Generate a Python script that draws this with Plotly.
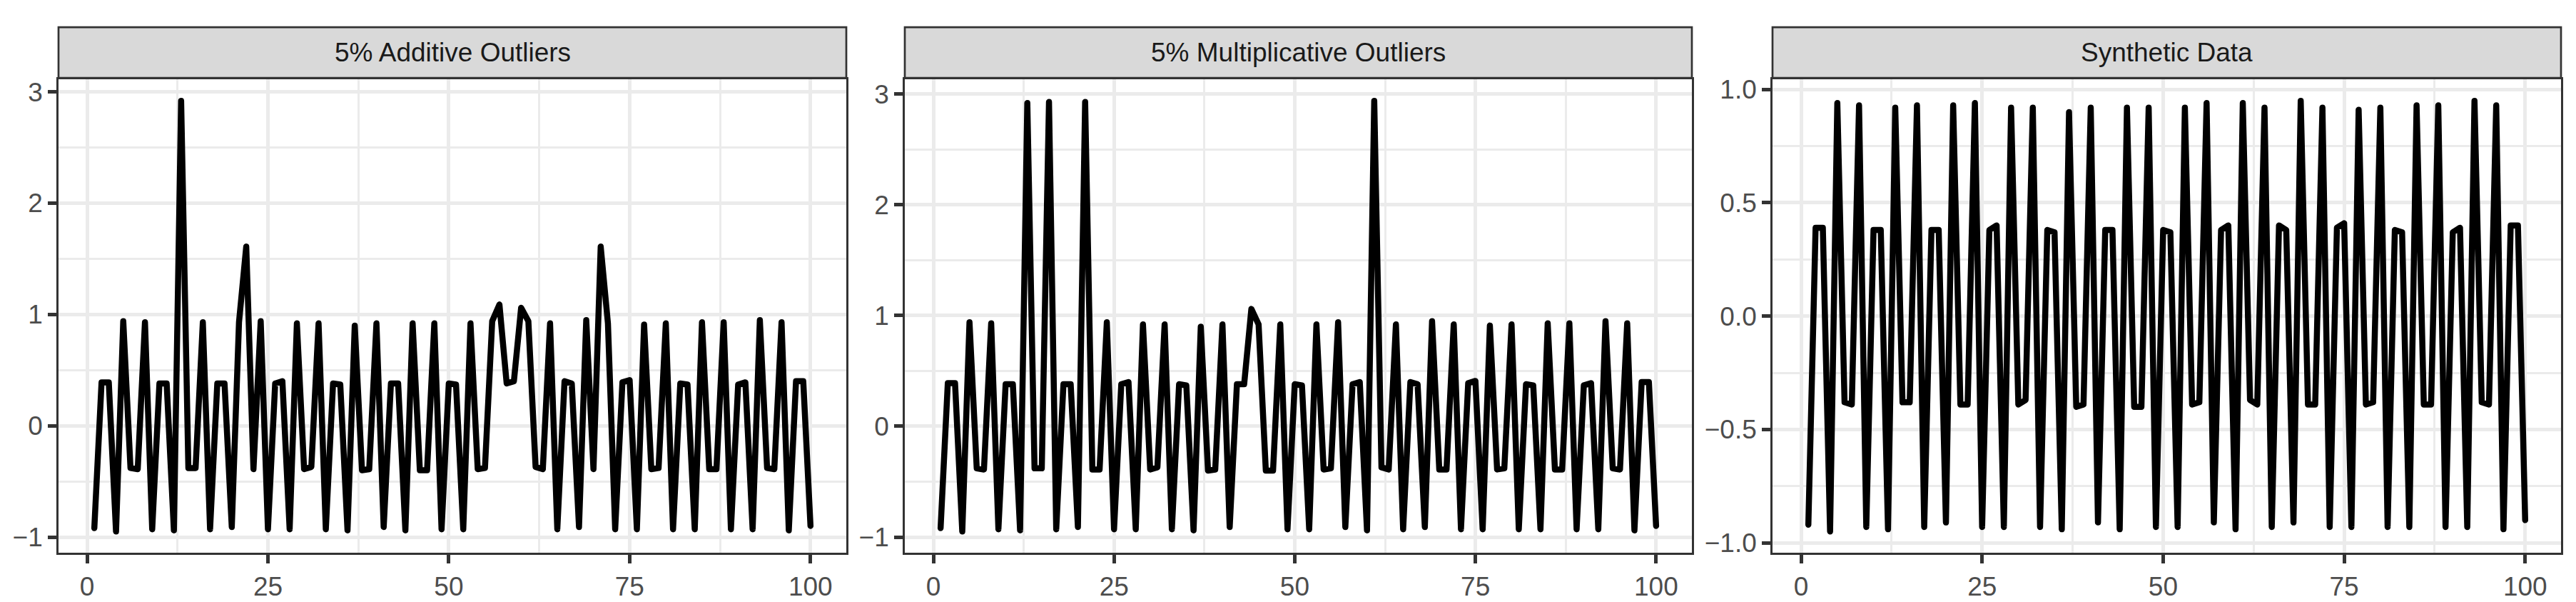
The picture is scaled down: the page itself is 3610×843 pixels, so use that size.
import plotly.graph_objects as go

W, H = 3610, 843

panel_titles = ["5% Additive Outliers", "5% Multiplicative Outliers", "Synthetic Data"]
time_index = list(range(1, 101))

additive = [
    -0.92, 0.39, 0.39, -0.95, 0.94, -0.38, -0.39, 0.93, -0.93, 0.38,
    0.38, -0.94, 2.92, -0.38, -0.38, 0.93, -0.93, 0.38, 0.38, -0.91,
    0.93, 1.61, -0.39, 0.94, -0.93, 0.38, 0.40, -0.93, 0.92, -0.39,
    -0.37, 0.92, -0.93, 0.38, 0.37, -0.94, 0.90, -0.40, -0.39, 0.92,
    -0.91, 0.38, 0.38, -0.94, 0.92, -0.40, -0.40, 0.92, -0.93, 0.38,
    0.37, -0.93, 0.92, -0.39, -0.38, 0.94, 1.09, 0.38, 0.40, 1.06,
    0.94, -0.37, -0.39, 0.92, -0.93, 0.40, 0.38, -0.91, 0.95, -0.39,
    1.61, 0.92, -0.93, 0.39, 0.41, -0.93, 0.91, -0.39, -0.38, 0.92,
    -0.93, 0.38, 0.37, -0.93, 0.93, -0.39, -0.39, 0.93, -0.93, 0.37,
    0.39, -0.93, 0.95, -0.38, -0.39, 0.93, -0.94, 0.40, 0.40, -0.90,
]

multiplicative = [
    -0.92, 0.39, 0.39, -0.95, 0.94, -0.38, -0.39, 0.93, -0.93, 0.38,
    0.38, -0.94, 2.92, -0.38, -0.38, 2.93, -0.93, 0.38, 0.38, -0.91,
    2.93, -0.39, -0.39, 0.94, -0.93, 0.38, 0.40, -0.93, 0.92, -0.39,
    -0.37, 0.92, -0.93, 0.38, 0.37, -0.94, 0.90, -0.40, -0.39, 0.92,
    -0.91, 0.38, 0.38, 1.06, 0.92, -0.40, -0.40, 0.92, -0.93, 0.38,
    0.37, -0.93, 0.92, -0.39, -0.38, 0.94, -0.91, 0.38, 0.40, -0.94,
    2.94, -0.37, -0.39, 0.92, -0.93, 0.40, 0.38, -0.91, 0.95, -0.39,
    -0.39, 0.92, -0.93, 0.39, 0.41, -0.93, 0.91, -0.39, -0.38, 0.92,
    -0.93, 0.38, 0.37, -0.93, 0.93, -0.39, -0.39, 0.93, -0.93, 0.37,
    0.39, -0.93, 0.95, -0.38, -0.39, 0.93, -0.94, 0.40, 0.40, -0.90,
]

synthetic = [
    -0.92, 0.39, 0.39, -0.95, 0.94, -0.38, -0.39, 0.93, -0.93, 0.38,
    0.38, -0.94, 0.92, -0.38, -0.38, 0.93, -0.93, 0.38, 0.38, -0.91,
    0.93, -0.39, -0.39, 0.94, -0.93, 0.38, 0.40, -0.93, 0.92, -0.39,
    -0.37, 0.92, -0.93, 0.38, 0.37, -0.94, 0.90, -0.40, -0.39, 0.92,
    -0.91, 0.38, 0.38, -0.94, 0.92, -0.40, -0.40, 0.92, -0.93, 0.38,
    0.37, -0.93, 0.92, -0.39, -0.38, 0.94, -0.91, 0.38, 0.40, -0.94,
    0.94, -0.37, -0.39, 0.92, -0.93, 0.40, 0.38, -0.91, 0.95, -0.39,
    -0.39, 0.92, -0.93, 0.39, 0.41, -0.93, 0.91, -0.39, -0.38, 0.92,
    -0.93, 0.38, 0.37, -0.93, 0.93, -0.39, -0.39, 0.93, -0.93, 0.37,
    0.39, -0.93, 0.95, -0.38, -0.39, 0.93, -0.94, 0.40, 0.40, -0.90,
]

series = [additive, multiplicative, synthetic]
x_ticks = [0, 25, 50, 75, 100]
y_dticks = [1, 1, 0.5]
y_formats = ["d", "d", ".1f"]

# panel pixel geometry (left, right) and common top/bottom
panels_px = [(82, 1186), (1268, 2371), (2484, 3589)]
panel_top, panel_bottom = 106.5, 779.5
strip_top, strip_bottom = 32.5, 104.5

FONT = "Liberation Sans, Arial, sans-serif"
GRID = "#EBEBEB"
DARK = "#333333"

fig = go.Figure()
layout = dict(
    width=W, height=H, margin=dict(l=0, r=0, t=0, b=0),
    paper_bgcolor="white", plot_bgcolor="white", showlegend=False,
    shapes=[], annotations=[],
)

def expand(lo, hi, f=0.05):
    d = (hi - lo) * f
    return [lo - d, hi + d]

for i, (vals, title) in enumerate(zip(series, panel_titles)):
    n = "" if i == 0 else str(i + 1)
    xa, ya = "x" + n, "y" + n
    fig.add_trace(go.Scatter(
        x=time_index, y=vals, mode="lines", xaxis=xa, yaxis=ya,
        line=dict(color="black", width=8.5), hoverinfo="skip",
    ))
    l, r = panels_px[i]
    xdom = [l / W, r / W]
    ydom = [1 - panel_bottom / H, 1 - panel_top / H]
    common = dict(
        showline=True, mirror=True, linecolor=DARK, linewidth=2.7,
        ticks="outside", ticklen=12, tickwidth=4.5, tickcolor=DARK,
        showgrid=True, gridcolor=GRID, gridwidth=5, zeroline=False,
        tickfont=dict(family=FONT, size=37, color="#4D4D4D"),
    )
    layout["xaxis" + n] = dict(
        common, domain=xdom, anchor=ya,
        range=expand(min(time_index), max(time_index)),
        tickmode="array", tickvals=x_ticks, ticktext=[str(t) for t in x_ticks],
        minor=dict(tickmode="linear", tick0=12.5, dtick=25, showgrid=True,
                   gridcolor=GRID, gridwidth=2.7, ticks=""),
    )
    layout["yaxis" + n] = dict(
        common, domain=ydom, anchor=xa,
        range=expand(min(vals), max(vals)),
        tickmode="linear", tick0=0, dtick=y_dticks[i], tickformat=y_formats[i],
        minor=dict(tickmode="linear", tick0=y_dticks[i] / 2, dtick=y_dticks[i], showgrid=True,
                   gridcolor=GRID, gridwidth=2.7, ticks=""),
    )
    layout["shapes"].append(dict(
        type="rect", xref="paper", yref="paper",
        x0=l / W, x1=r / W, y0=1 - strip_bottom / H, y1=1 - strip_top / H,
        fillcolor="#D9D9D9", line=dict(color=DARK, width=2.7), layer="above",
    ))
    layout["annotations"].append(dict(
        text=title, xref="paper", yref="paper",
        x=(l + r) / 2 / W, y=1 - (strip_top + strip_bottom) / 2 / H,
        xanchor="center", yanchor="middle", showarrow=False,
        font=dict(family=FONT, size=37, color="#1A1A1A"),
    ))

fig.update_layout(**layout)

css = ("var s=document.createElement('style');"
       "s.innerHTML='html,body{margin:0 !important;padding:0 !important;overflow:hidden;}"
       "path.js-line{stroke-linejoin:round !important;stroke-linecap:round !important;}';"
       "document.head.appendChild(s);")
fig.write_html("out.html", post_script=css, config={"displayModeBar": False})
